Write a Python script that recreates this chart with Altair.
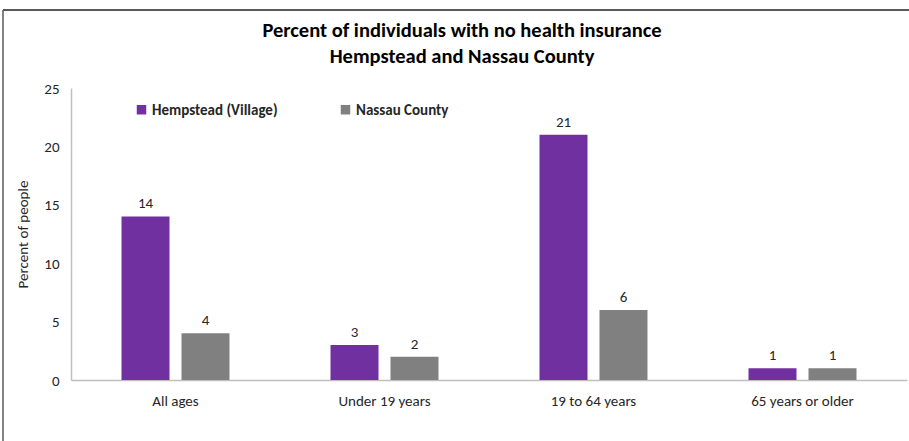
import altair as alt
import pandas as pd

categories = ["All ages", "Under 19 years", "19 to 64 years", "65 years or older"]
series = ["Hempstead (Village)", "Nassau County"]
hempstead = [14, 3, 21, 1]
nassau = [4, 2, 6, 1]
colors = ["#7030A0", "#808080"]

rows = []
for c, h, n in zip(categories, hempstead, nassau):
    rows.append({"cat": c, "series": series[0], "value": h})
    rows.append({"cat": c, "series": series[1], "value": n})
df = pd.DataFrame(rows)

FONT = "Carlito, Lato, sans-serif"
FS = 15

x = alt.X("cat:N", sort=categories, title=None,
          scale=alt.Scale(paddingInner=0, paddingOuter=0),
          axis=alt.Axis(labelAngle=0, ticks=False, domainColor="#bfbfbf", domainWidth=1.5,
                        labelFontSize=FS, labelColor="#262626", labelPadding=13, labelFont=FONT))
xo = alt.XOffset("series:N", sort=series,
                 scale=alt.Scale(paddingInner=0.2, paddingOuter=0.842))
y = alt.Y("value:Q", title="Percent of people",
          scale=alt.Scale(domain=[0, 25]),
          axis=alt.Axis(values=[0, 5, 10, 15, 20, 25], grid=False, ticks=False,
                        domainColor="#bfbfbf", domainWidth=1.5, labelFontSize=FS,
                        labelColor="#262626", labelPadding=12, labelFont=FONT,
                        titleFont=FONT, titleFontSize=FS, titleFontWeight="normal",
                        titleColor="#262626", titlePadding=13))
color = alt.Color("series:N", sort=series, title=None,
                  scale=alt.Scale(domain=series, range=colors),
                  legend=alt.Legend(orient="none", legendX=63, legendY=14, direction="horizontal",
                                    symbolType="square", symbolSize=90, symbolStrokeWidth=0,
                                    labelFontWeight="bold", labelFontSize=FS, labelFont=FONT,
                                    labelColor="#262626", columnPadding=60, labelOffset=3))

bars = alt.Chart(df).mark_bar().encode(x=x, xOffset=xo, y=y, color=color)
labels = alt.Chart(df).mark_text(baseline="bottom", dy=-5, fontSize=FS, font=FONT,
                                 color="#262626").encode(
    x=x, xOffset=xo, y=y, text=alt.Text("value:Q"))

frame_df = pd.DataFrame({"k": [0]})
top_line = alt.Chart(frame_df).mark_rule(color="#595959", strokeWidth=2).encode(
    x=alt.value(-68), x2=alt.value(840), y=alt.value(-78))
left_line = alt.Chart(frame_df).mark_rule(color="#595959", strokeWidth=1.5).encode(
    x=alt.value(-68), y=alt.value(-78), y2=alt.value(365))

chart = alt.layer(top_line, left_line, bars, labels).properties(
    width=836, height=292,
    autosize=alt.AutoSizeParams(type="none"),
    padding={"left": 71, "top": 88, "right": 2, "bottom": 61},
    title=alt.TitleParams(
        text=["Percent of individuals with no health insurance", "Hempstead and Nassau County"],
        font=FONT, fontSize=20.5, fontWeight="bold", color="#000000",
        anchor="middle", dx=-27, offset=-58, lineHeight=26),
).configure_view(stroke=None)

chart.save("out.html", embed_options={"renderer": "svg", "actions": False})
